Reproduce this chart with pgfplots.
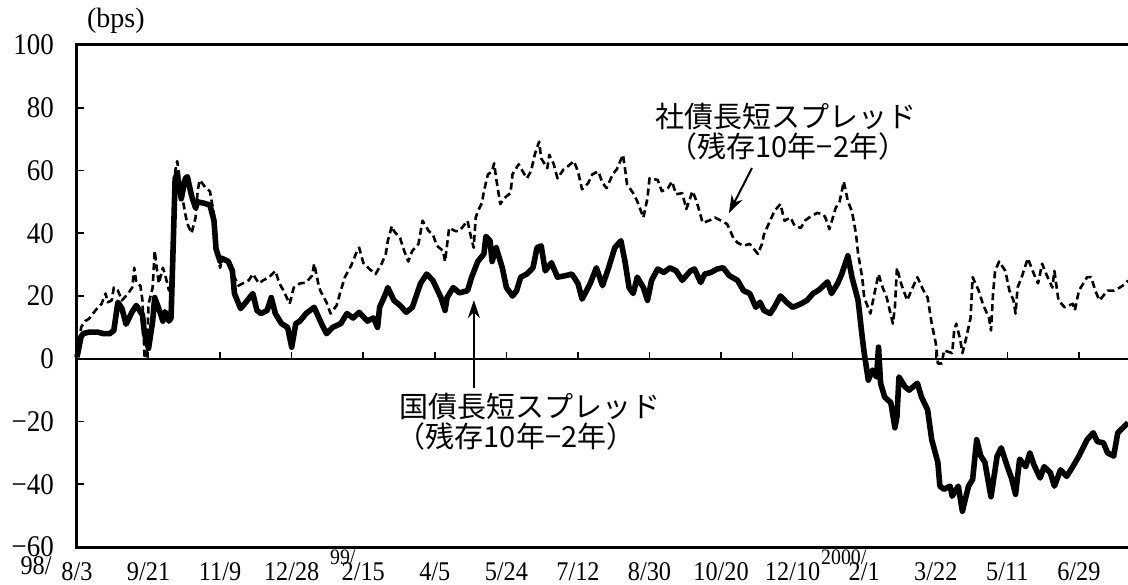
\documentclass[border=0pt]{standalone}
\usepackage{fontspec}
\setmainfont{Liberation Serif}
\newfontfamily\numfont[FakeStretch=0.9]{Liberation Serif}
\newfontfamily\cjk{Noto Sans CJK JP}
\usepackage{pgfplots}
\pgfplotsset{compat=1.18}
\usetikzlibrary{arrows.meta}

\begin{document}
\begin{tikzpicture}
\begin{axis}[
  name=ax,
  scale only axis,
  width=525.5pt, height=251pt,
  xmin=0, xmax=514, ymin=-60, ymax=100,
  clip=false,
  axis line style={draw=none},
  xtick={0,35,70,105,140,175,210,245,280,315,350,385,420,455,490},
  xticklabels={8/3,9/21,11/9,12/28,2/15,4/5,5/24,7/12,8/30,10/20,12/10,2/1,3/22,5/11,6/29},
  xtick pos=bottom,
  x tick style={draw=none},
  ytick={-60,-40,-20,0,20,40,60,80,100},
  yticklabels={−60,−40,−20,0,20,40,60,80,100},
  ytick pos=left,
  tick align=inside,
  y tick style={line width=0.8pt, black},
  major tick length=3.5pt,
  xticklabel style={font=\numfont\fontsize{13.5}{13.5}\selectfont, inner sep=0pt, anchor=north, yshift=-7.5pt},
  yticklabel style={font=\numfont\fontsize{15}{15}\selectfont, xshift=-8pt},
]
% frame: left, top, bottom
\draw[line width=1.5pt] (rel axis cs:1,1) -- (rel axis cs:0,1) -- (rel axis cs:0,0) -- (rel axis cs:1,0);
% zero line with ticks
\draw[line width=0.8pt] (axis cs:0,0) -- (axis cs:514,0);
\pgfplotsinvokeforeach{35,70,105,140,175,210,245,280,315,350,385,420,455,490}{
  \draw[line width=0.8pt] (axis cs:#1,0) -- ++(0pt,3.5pt);
}

% corporate bond spread (dashed)
\addplot[black, line width=1.3pt, dash pattern=on 3.5pt off 2pt, line join=round] coordinates {
(0,2)(1,3.7)(2,10)(4,12)(6,12.8)(9,15.4)(12,17.5)(14,20.8)(15,18)(17,18.6)(18,22.7)(20,21.7)(22,18.6)(25,20.8)(27,22.7)(28,29)(29,24.3)(31,23.3)(32,18.6)(33,1)(34,0)(35,17.5)(37,22.7)(38,34.4)(39,29)(40,24)(42,29)(43,27)(45,21.7)(46,25)(48,59.7)(49,63)(51,53.4)(53,46)(54,43)(56,40)(58,45)(59,53.4)(60,57)(63,54.4)(65,53.4)(67,46)(68,35.4)(70,29)(71,32)(74,30.3)(77,26)(79,23.3)(81,24)(84,25)(86,27)(89,24)(91,25)(94,26)(97,28)(99,24)(101,21.7)(104,17.5)(106,22.7)(109,24)(112,24.3)(115,26.5)(116,30.3)(118,24)(119,21.7)(122,18)(124,14.4)(127,17)(129,21.7)(131,26)(134,29.6)(137,34.4)(138,35.4)(140,30.6)(143,28.6)(146,27)(149,30.3)(151,33.4)(152,37.6)(154,42.3)(155,40.7)(158,38.5)(160,34.4)(162,31)(164,34.4)(167,36.6)(169,44)(172,40.7)(174,39.7)(176,36)(179,34.4)(180,31)(182,41.7)(185,40.7)(187,40.7)(191,44)(192,40.7)(194,35.4)(195,45)(196,47)(198,49.6)(199,53.4)(201,58.8)(203,59.7)(204,62.3)(205,57.5)(207,49.3)(209,51.2)(212,52.8)(213,58.8)(216,62)(218,59.7)(220,57.5)(222,59.7)(224,65.4)(226,69.2)(227,63.9)(230,60.7)(231,65)(233,62.3)(235,57.5)(238,60.4)(240,61.3)(243,63)(245,59.7)(247,54)(250,56)(252,58.8)(255,59.7)(257,56)(259,54.4)(262,58.8)(264,60.4)(267,65)(268,60.7)(269,55.6)(272,52.8)(274,50.2)(277,45)(279,51.2)(280,57.5)(284,57)(286,53.4)(289,54.4)(291,56.5)(293,52.4)(296,52.8)(298,47.7)(301,53.4)(303,50.2)(306,43.3)(309,44)(312,45)(315,44)(318,42.9)(321,38.5)(323,37)(326,36)(329,36.6)(333,33.4)(335,36.6)(336,39.7)(339,44)(341,47)(344,49.3)(346,44)(349,45)(351,42.3)(354,41.7)(356,44)(358,45)(362,46.5)(365,46)(366,45)(368,41.3)(371,48)(373,50.2)(375,56.5)(377,50.2)(379,47)(381,39.7)(382,33.4)(384,26)(385,19.5)(388,14.4)(390,20.8)(392,27)(394,22.7)(396,19.5)(399,11.2)(400,16.4)(401,29)(403,24)(406,18.6)(408,21.7)(411,26)(414,21.7)(416,19.5)(418,11.2)(420,4.9)(421,-1.5)(423,-1.5)(424,2.7)(428,1.8)(429,9)(430,11.2)(432,5.9)(433,1.8)(435,7)(437,13)(438,26)(441,21.7)(443,17.5)(446,13)(447,9)(448,20.8)(449,28)(451,31)(454,28)(456,21.7)(458,18.6)(459,14.4)(460,22.7)(462,26)(465,32)(468,27)(470,24)(472,30.3)(474,27)(477,22.7)(478,28)(480,18.6)(483,16.4)(487,17.5)(488,15.4)(490,21.7)(494,26)(496,26)(498,21.7)(500,18.6)(504,21.7)(507,21.7)(510,22.7)(513,24)(514,25)
};

% government bond spread (thick solid)
\addplot[black, line width=2.8pt, line join=round] coordinates {
(0,0.5)(2,7)(3,8)(6,8.5)(10,8.5)(13,8)(16,8)(18,9)(20,18)(22,16)(24,11)(27,15)(29,17)(32,14)(33,8)(35,3.3)(37,12)(38,19.5)(40,16)(42,12)(43,15)(45,12)(46,13)(48,57.5)(49,59)(51,51)(53,57.5)(54,58)(56,52)(58,48)(59,50)(62,49.6)(65,49)(67,44)(68,35)(70,31)(71,32)(74,31)(76,28)(77,20.8)(80,16)(82,17.5)(86,20.8)(88,15.4)(90,14.4)(93,15.4)(95,19.5)(97,14.4)(100,11.2)(103,10)(105,3.7)(107,11.2)(109,12)(112,14.4)(116,16.4)(119,12)(122,8)(125,10)(129,11.2)(132,14.4)(135,13)(138,14.8)(142,12)(145,13)(147,10)(148,16.4)(151,20.8)(152,22.7)(155,18.6)(158,17)(161,14.8)(164,16.4)(168,24)(171,27)(174,25)(178,19.5)(180,15.4)(181,19.5)(184,22.7)(187,21)(191,21.7)(193,26)(196,31)(199,33.4)(200,39)(202,37.6)(203,31)(205,35.4)(208,29)(210,22.7)(213,20)(215,21.7)(217,26)(220,27)(223,29)(225,35.4)(227,36)(229,28)(232,30.6)(235,26)(239,26.5)(242,27)(245,24)(247,19)(251,24)(254,29)(257,23.3)(260,29)(263,35.4)(266,37.6)(268,31)(270,22.7)(272,20.8)(274,26)(277,22.7)(279,18.6)(281,25)(284,28.6)(287,27.5)(290,29)(293,28)(296,25)(300,28)(302,28.6)(305,24.3)(307,27)(310,27.5)(313,28.6)(316,29)(319,26.5)(323,25)(326,21.7)(329,20.8)(332,16.4)(334,18)(336,15.4)(339,14.4)(341,16.4)(344,20)(347,18)(350,16.4)(354,17.5)(357,18.6)(360,20.8)(363,22)(367,24.5)(369,20.8)(372,24)(374,27)(377,32.8)(379,26)(382,18.6)(384,7)(385,1.8)(387,-6.8)(389,-3.6)(391,-5.8)(392,3.7)(393,-7.8)(395,-12.2)(398,-14)(400,-22)(401,-18.5)(402,-5.8)(405,-9)(407,-10)(411,-7.8)(413,-12.2)(416,-16.3)(418,-25.8)(421,-33)(422,-40.6)(424,-41.6)(427,-40.6)(428,-43.8)(431,-40.6)(433,-48.6)(436,-40.6)(438,-38.5)(440,-25.8)(442,-31)(444,-33)(447,-44)(450,-31)(452,-28.4)(455,-34.4)(457,-38)(459,-43.2)(461,-32)(464,-34.4)(466,-30)(468,-33.8)(471,-38)(473,-34.4)(476,-36.3)(478,-40.6)(481,-35.4)(484,-37.5)(487,-34.4)(490,-31)(494,-25.8)(497,-23.6)(499,-26.4)(502,-26.8)(504,-30)(507,-31)(509,-23.6)(512,-21.7)(514,-20.4)
};

% labels
\node[font=\fontsize{14}{14}\selectfont] at (axis cs:19,107.6) {(bps)};
\node[font=\numfont\fontsize{13.5}{13.5}\selectfont, inner sep=0pt, anchor=north] at (axis cs:-20,-62.8) {98/};
\node[font=\numfont\fontsize{11}{11}\selectfont, inner sep=0pt, anchor=north] at (axis cs:130,-60.9) {99/};
\node[font=\numfont\fontsize{11}{11}\selectfont, inner sep=0pt, anchor=north] at (axis cs:375,-60.9) {2000/};

\node[font=\cjk\fontsize{14.5}{14.5}\selectfont] at (axis cs:346.7,77.1) {社債長短スプレッド};
\node[font=\cjk\fontsize{14.5}{14.5}\selectfont] at (axis cs:347.7,67.6) {（残存10年−2年）};
\node[font=\cjk\fontsize{14.5}{14.5}\selectfont] at (axis cs:221.5,-15.3) {国債長短スプレッド};
\node[font=\cjk\fontsize{14.5}{14.5}\selectfont] at (axis cs:214.7,-24.9) {（残存10年−2年）};

\draw[line width=1pt, -{Stealth[length=9pt,width=6pt]}] (axis cs:330.1,60.8) -- (axis cs:318.8,46.4);
\draw[line width=1pt, -{Stealth[length=9pt,width=6pt]}] (axis cs:194.1,-9.3) -- (axis cs:194.1,18.7);
\end{axis}
\pgfresetboundingbox
\path[use as bounding box] ([shift={(-38.5pt,-18.5pt)}]ax.south west) rectangle ([shift={(0pt,22.5pt)}]ax.north east);
\end{tikzpicture}
\end{document}
